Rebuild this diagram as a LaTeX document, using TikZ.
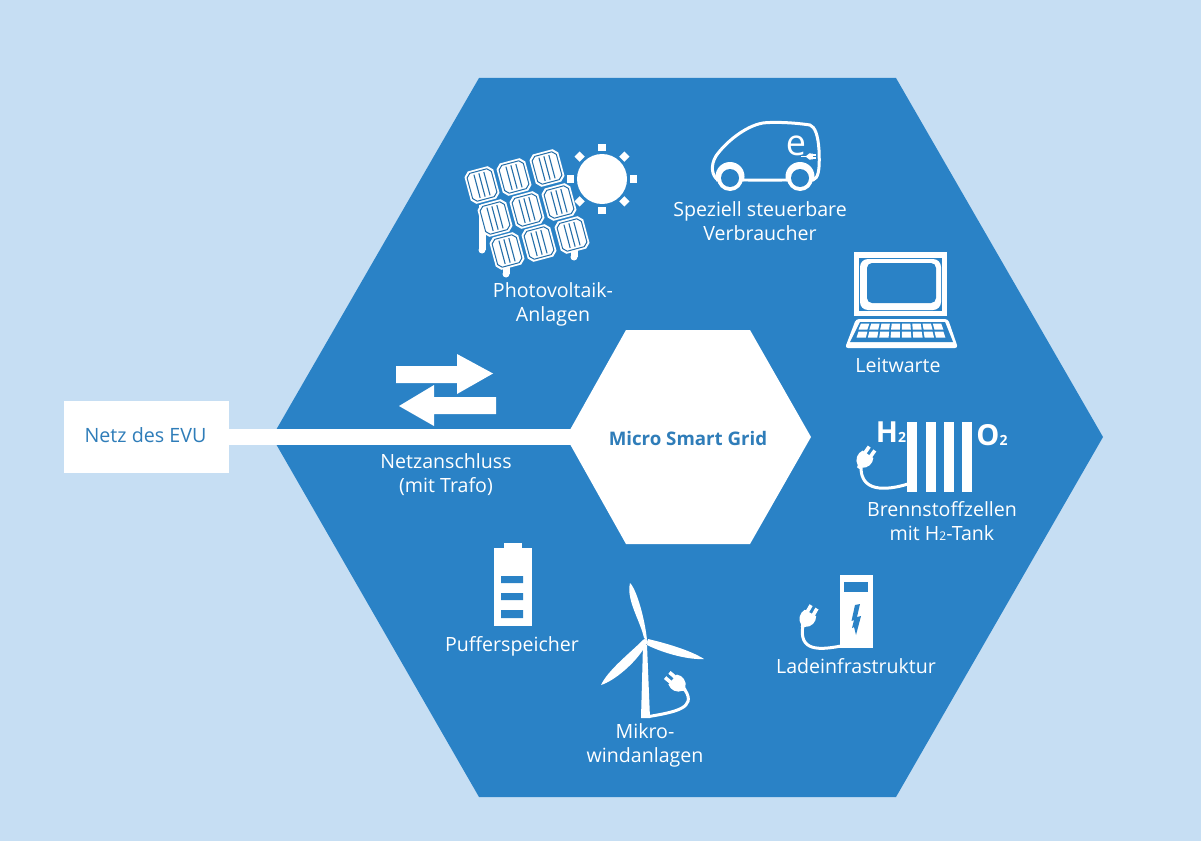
\documentclass[tikz,border=0pt]{standalone}
\usepackage{fontspec}
\setmainfont{Open Sans}
\definecolor{bgc}{HTML}{C6DEF3}
\definecolor{hexc}{HTML}{2A82C6}
\definecolor{txtc}{HTML}{2F7DB9}
\tikzset{
 x=1pt,y=-1pt,
 lbl/.style={text=white,font=\fontsize{19.6}{24}\selectfont,inner sep=0pt,align=center},
 blbl/.style={text=txtc,inner sep=0pt,align=center},
 plug/.pic={
  \fill[white] (-6.5,-7) -- (6.5,-7) .. controls (9.5,-2) and (8,5) .. (2,8) -- (1.5,10) -- (-1.5,10) -- (-2,8) .. controls (-8,5) and (-9.5,-2) .. (-6.5,-7) -- cycle;
  \fill[white] (-5.2,-6) rectangle (-1.6,-14);
  \fill[white] (1.6,-6) rectangle (5.2,-14);
 },
 module/.pic={
  \fill[white] (-11,-18) -- (11,-18) -- (16,-13) -- (16,13) -- (11,18) -- (-11,18) -- (-16,13) -- (-16,-13) -- cycle;
  \draw[hexc!85!black,line width=1pt] (-9.5,-15.5) -- (9.5,-15.5) -- (13.5,-11.5) -- (13.5,11.5) -- (9.5,15.5) -- (-9.5,15.5) -- (-13.5,11.5) -- (-13.5,-11.5) -- cycle;
  \draw[hexc!85!black,line width=1.1pt] (-5.5,-13) -- (-5.5,13) (0,-13) -- (0,13) (5.5,-13) -- (5.5,13);
 }
}
\begin{document}
\begin{tikzpicture}
\useasboundingbox (0,0) rectangle (1201,840);
\fill[bgc] (-5,-5) rectangle (1206,845);
\fill[hexc] (479,78) -- (896,78) -- (1103,437) -- (896,797) -- (479,797) -- (272,437) -- cycle;
% connector
\node[fill=white,minimum width=165pt,minimum height=72pt,inner sep=0pt] (evu) at (146.5,437) {};
\node[blbl,font=\fontsize{19.7}{22}\selectfont] (evut) at (145.5,435) {Netz des EVU};
\coordinate (mgleft) at (572,437);
\draw[white,line width=16pt] (evu.east) -- (mgleft);
\fill[white] (626,330) -- (750,330) -- (811,437) -- (750,544) -- (626,544) -- (566,437) -- cycle;
\node[blbl,font=\fontsize{18.7}{22}\selectfont\bfseries] (mg) at (688,438) {Micro Smart Grid};
% arrows
\fill[white] (396,366) -- (457,366) -- (457,354) -- (493,373.5) -- (457,394) -- (457,383) -- (396,383) -- cycle;
\fill[white] (496,397) -- (434,397) -- (434,385) -- (399,406) -- (434,426) -- (434,414) -- (496,414) -- cycle;
% solar
\fill[white] (478.5,205) rectangle (485.5,250);
\fill[white] (482,250) circle (3.5);
\fill[white] (502.5,250) rectangle (509.5,274);
\fill[white] (506,274) circle (3.5);
\fill[white] (570.5,230) rectangle (577.5,257);
\fill[white] (574,257) circle (3.5);
\foreach \mx/\my in {482/185,514/177,547/168,495/218,527/210,559/202,507/251,539/243,572/235}
  \pic[rotate=15,scale=0.93,transform shape] at (\mx,\my) {module};
\fill[white] (602,179) circle (25);
\foreach \a in {0,45,...,315}
  \fill[white,rotate around={\a:(602,179)},shift={(602,179)}] (28,-3.7) rectangle (35.2,3.7);
% car
\draw[white,line width=3pt,line join=round,line cap=round] (743,180) -- (787,180) (813,180) .. controls (818,178) and (820,172) .. (819,150) .. controls (818,135) and (815,127) .. (810,125) .. controls (790,122) and (770,122) .. (763,123) .. controls (745,126) and (725,143) .. (716,156) .. controls (710,166) and (712,176) .. (718,180);
\fill[white] (730,176.5) circle (14.5) (800,176.5) circle (14.5);
\fill[hexc] (712,181.5) rectangle (748,196) (782,181.5) rectangle (818,196);
\fill[white] (730,178) circle (13) (800,178) circle (13);
\fill[hexc] (730,178) circle (9) (800,178) circle (9);
\node[text=white,inner sep=0pt,font=\fontsize{36}{36}\selectfont] (etext) at (796,145.5) {e};
\draw[white,line width=1.6pt] (801,156.5) -- (807,156.5);
\pic[rotate=-90,scale=0.42] at (810,156.5) {plug};
% laptop
\fill[white] (854,252) rectangle (947,316);
\fill[hexc] (859,258) rectangle (942,311);
\fill[white,rounded corners=8pt] (860,259) rectangle (941,310);
\fill[hexc,rounded corners=5pt] (867,263) rectangle (936,303);
\fill[white,rounded corners=3pt] (856,319) -- (948,319) -- (958,348) -- (845,348) -- cycle;
\fill[hexc] (860,322) -- (945,322) -- (953,342) -- (850,342) -- cycle;
\foreach \k in {0,...,7}{
  \pgfmathsetmacro{\xa}{861+\k*10.25}
  \pgfmathsetmacro{\xb}{\xa+8.4}
  \pgfmathsetmacro{\xc}{858.5+\k*10.85}
  \pgfmathsetmacro{\xd}{\xc+8.9}
  \pgfmathsetmacro{\xe}{856.5+\k*11.35}
  \pgfmathsetmacro{\xf}{\xe+9.4}
  \fill[white] (\xa,323.5) -- (\xb,323.5) -- (\xd,329.5) -- (\xc,329.5) -- cycle;
  \fill[white] (\xc,331.5) -- (\xd,331.5) -- (\xf,337.5) -- (\xe,337.5) -- cycle;
}
% fuel cell
\foreach \bx in {907,926,944,962}
  \fill[white] (\bx,422) rectangle (\bx+10,492);
\draw[white,line width=3pt] (908,484) .. controls (885,491) and (860,492) .. (861,466);
\pic[rotate=-35] at (864,460) {plug};
\node[text=white,inner sep=0pt,anchor=base,font=\fontsize{29}{29}\selectfont\bfseries] (h2) at (891,442) {H\raisebox{0pt}{\fontsize{14}{14}\selectfont 2}};
\node[text=white,inner sep=0pt,anchor=base,font=\fontsize{29}{29}\selectfont\bfseries] (o2) at (992,445) {O\raisebox{0pt}{\fontsize{14}{14}\selectfont 2}};
% charger
\fill[white] (840,575) rectangle (873,648);
\fill[hexc] (844,582) rectangle (868,592);
\fill[hexc] (855,605) -- (860,604) -- (857,617) -- (861,616) -- (856,635) -- (854,627) -- (852,628) -- (854,620) -- (851.5,621) -- cycle;
\draw[white,line width=3pt] (841,646) .. controls (820,650) and (798,652) .. (803,625);
\pic[rotate=-30] at (807,619) {plug};
% battery
\fill[white] (504,543) rectangle (522,550);
\fill[white] (494,548) rectangle (532,626);
\fill[hexc] (501,576) rectangle (523,583) (501,593) rectangle (523,600) (501,610) rectangle (523,618);
% wind
\fill[white] (643,645) -- (647,645) -- (650,718) -- (641,718) -- cycle;
\fill[white] (645,642) circle (3);
\fill[white] (644,638) .. controls (640,620) and (626,600) .. (630,583) .. controls (637,590) and (645,620) .. (647,640) -- cycle;
\fill[white] (648,639) .. controls (665,643) and (690,650) .. (704,659) .. controls (690,660) and (665,654) .. (647,645) -- cycle;
\fill[white] (643,640) .. controls (630,653) and (608,670) .. (601,685) .. controls (614,681) and (636,663) .. (646,645) -- cycle;
\draw[white,line width=3pt] (649,716.5) .. controls (675,712) and (697,708) .. (685,690);
\pic[rotate=50] at (678,684) {plug};
% labels
\node[lbl] (pv) at (553,304) {Photovoltaik-\\Anlagen};
\node[lbl] (sv) at (760,221) {Speziell steuerbare\\Verbraucher};
\node[lbl] (lw) at (898,365) {Leitwarte};
\node[lbl] (na) at (446,474.5) {Netzanschluss\\(mit Trafo)};
\node[lbl] (bz) at (942,521) {Brennstoffzellen\\mit H{\fontsize{12}{12}\selectfont 2}-Tank};
\node[lbl] (ps) at (512,646) {Pufferspeicher};
\node[lbl] (mw) at (645,745) {Mikro-\\windanlagen};
\node[lbl] (li) at (856,666.5) {Ladeinfrastruktur};
\end{tikzpicture}
\end{document}
